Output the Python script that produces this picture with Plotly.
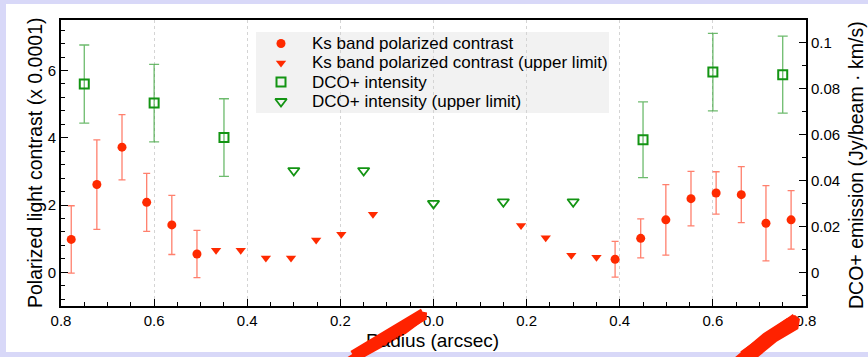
import plotly.graph_objects as go

# ---------------- data ----------------
ks_x = [-0.778, -0.723, -0.669, -0.616, -0.562, -0.508, 0.390, 0.445, 0.499, 0.553, 0.607, 0.661, 0.714, 0.768]
ks_y = [0.98, 2.61, 3.72, 2.08, 1.41, 0.545, 0.39, 1.01, 1.56, 2.19, 2.36, 2.31, 1.46, 1.56]
ks_err = [1.00, 1.33, 0.97, 0.86, 0.88, 0.70, 0.53, 0.58, 1.05, 0.81, 0.63, 0.83, 1.12, 0.87]

ks_ul_x = [-0.467, -0.414, -0.360, -0.306, -0.252, -0.198, -0.130, 0.188, 0.241, 0.296, 0.350]
ks_ul_y = [0.66, 0.66, 0.43, 0.43, 0.96, 1.13, 1.73, 1.39, 1.03, 0.51, 0.45]

dco_x = [-0.75, -0.60, -0.45, 0.45, 0.60, 0.75]
dco_y = [0.0821, 0.0738, 0.0588, 0.0578, 0.0873, 0.0862]
dco_err = [0.0170, 0.0169, 0.0169, 0.0165, 0.0169, 0.0168]

dco_ul_x = [-0.30, -0.15, 0.0, 0.15, 0.30]
dco_ul_y = [0.0444, 0.0444, 0.0301, 0.0308, 0.0308]

x_tickvals = [-0.8, -0.6, -0.4, -0.2, 0.0, 0.2, 0.4, 0.6, 0.8]
x_ticktext = ["0.8", "0.6", "0.4", "0.2", "0.0", "0.2", "0.4", "0.6", "0.8"]
yl_tickvals = [0, 2, 4, 6]
yr_tickvals = [0, 0.02, 0.04, 0.06, 0.08, 0.1]
yr_ticktext = ["0", "0.02", "0.04", "0.06", "0.08", "0.1"]

names = ["Ks band polarized contrast", "Ks band polarized contrast (upper limit)",
         "DCO+ intensity", "DCO+ intensity (upper limit)"]

# ---------------- layout geometry ----------------
W, H = 868, 357
L, R, T, B = 61, 62, 20, 51
FONT = "Liberation Sans, Arial, Helvetica, sans-serif"
RED = "#ff2a00"
RED_ERR = "rgba(255,60,30,0.65)"
GREEN = "#139413"
GREEN_ERR = "rgba(30,150,30,0.65)"

pw, ph = W - L - R, H - T - B


def px(xp):
    return (xp - L) / pw


def py(yp):
    return (H - B - yp) / ph


styles = [
    dict(symbol="circle", size=9, color=RED),
    dict(symbol="triangle-down", size=9, color=RED),
    dict(symbol="square-open", size=9, color=GREEN, line=dict(width=2, color=GREEN)),
    dict(symbol="triangle-down-open", size=10, color=GREEN, line=dict(width=1.8, color=GREEN)),
]

fig = go.Figure()

fig.add_trace(go.Scatter(
    x=ks_x, y=ks_y, mode="markers", name=names[0], marker=styles[0],
    error_y=dict(type="data", array=ks_err, color=RED_ERR, thickness=1.3, width=3.5),
))
fig.add_trace(go.Scatter(
    x=ks_ul_x, y=ks_ul_y, mode="markers", name=names[1], marker=styles[1],
))
fig.add_trace(go.Scatter(
    x=dco_x, y=dco_y, mode="markers", name=names[2], yaxis="y2", marker=styles[2],
    error_y=dict(type="data", array=dco_err, color=GREEN_ERR, thickness=1.3, width=5),
))
fig.add_trace(go.Scatter(
    x=dco_ul_x, y=dco_ul_y, mode="markers", name=names[3], yaxis="y2", marker=styles[3],
))

# ---- legend (drawn on a hidden 0..1 overlay frame so its rows can be packed tightly) ----
leg_rows = [43.5, 63.0, 82.0, 101.5]
leg_sym_x = 281
leg_txt_x = 310
annotations = []
for i, nm in enumerate(names):
    fig.add_trace(go.Scatter(
        x=[px(leg_sym_x)], y=[py(leg_rows[i])], mode="markers", marker=styles[i],
        xaxis="x2", yaxis="y3", showlegend=False, hoverinfo="skip",
    ))
    annotations.append(dict(text=nm, xref="paper", yref="paper", x=px(leg_txt_x), y=py(leg_rows[i]),
                            xanchor="left", yanchor="middle", showarrow=False,
                            font=dict(size=17, family=FONT, color="black")))

shapes = [
    dict(type="rect", xref="paper", yref="paper", x0=px(6), x1=px(870), y0=py(352), y1=py(4),
         fillcolor="white", line=dict(width=0), layer="below"),
    dict(type="rect", xref="paper", yref="paper", x0=px(256), x1=px(609), y0=py(113), y1=py(32),
         fillcolor="#f2f2f2", line=dict(width=0), layer="below"),
]


def poly(pts):
    return "M " + " L ".join(f"{px(a):.5f},{py(b):.5f}" for a, b in pts) + " Z"


stroke_polys = [
    [(346, 358), (376.7, 338.3), (396.7, 326.7), (423.3, 311.7), (427, 312.5),
     (426.7, 318.3), (406.7, 333.3), (383.3, 346.7), (363, 358)],
    [(734, 358), (763.3, 333.3), (786.7, 318.3), (795, 315), (800, 319),
     (798.3, 329), (776.7, 341.7), (757, 358)],
]
for s in stroke_polys:
    shapes.append(dict(type="path", xref="paper", yref="paper", path=poly(s),
                       fillcolor="#ff2200", line=dict(width=0), layer="above"))

annotations += [
    dict(text="Polarized light contrast (x 0.0001)", xref="paper", yref="paper",
         x=px(35), y=py(163), xanchor="center", yanchor="middle", textangle=-90,
         showarrow=False, font=dict(size=19.5, family=FONT)),
    dict(text="DCO+ emission (Jy/beam · km/s)", xref="paper", yref="paper",
         x=px(856), y=py(165), xanchor="center", yanchor="middle", textangle=-90,
         showarrow=False, font=dict(size=19.5, family=FONT)),
    dict(text="Radius (arcsec)", xref="paper", yref="paper",
         x=px(432), y=py(340), xanchor="center", yanchor="middle",
         showarrow=False, font=dict(size=19, family=FONT)),
]

# red brush strokes painted over the bottom labels
for (hx, hy, tx, ty, wd) in [(424, 314, 352, 357, 12), (796, 318.5, 742, 357, 11)]:
    annotations.append(dict(text="", xref="paper", yref="paper", x=px(hx), y=py(hy),
                            ax=tx - hx, ay=ty - hy, showarrow=True, arrowhead=0,
                            arrowwidth=wd, arrowcolor="#ff2200", standoff=0, startstandoff=0))

fig.update_layout(
    width=W, height=H,
    margin=dict(l=L, r=R, t=T, b=B, pad=0),
    paper_bgcolor="rgb(216,216,248)",
    plot_bgcolor="rgba(0,0,0,0)",
    font=dict(family=FONT, size=15, color="black"),
    shapes=shapes,
    annotations=annotations,
    showlegend=False,
    xaxis=dict(range=[-0.8, 0.8], tickvals=x_tickvals, ticktext=x_ticktext,
               ticks="inside", ticklen=7, tickwidth=1.2, tickcolor="black",
               showline=True, linecolor="black", linewidth=2, mirror=True,
               showgrid=True, gridcolor="#d4d4d4", griddash="dot", gridwidth=1,
               zeroline=False,
               minor=dict(dtick=0.05, tick0=0, ticks="inside", ticklen=4, tickcolor="black",
                          showgrid=False),
               tickfont=dict(size=15)),
    xaxis2=dict(range=[0, 1], overlaying="x", visible=False, fixedrange=True),
    yaxis=dict(range=[-1, 7.5], tickvals=yl_tickvals,
               ticks="inside", ticklen=7, tickwidth=1.2, tickcolor="black",
               showline=True, linecolor="black", linewidth=2,
               showgrid=False, zeroline=False,
               minor=dict(dtick=0.4, tick0=0, ticks="inside", ticklen=4, tickcolor="black"),
               tickfont=dict(size=15)),
    yaxis2=dict(range=[-0.0146, 0.110], overlaying="y", side="right",
                tickvals=yr_tickvals, ticktext=yr_ticktext,
                ticks="inside", ticklen=7, tickwidth=1.2, tickcolor="black",
                showline=True, linecolor="black", linewidth=2,
                showgrid=False, zeroline=False,
                minor=dict(dtick=0.01, tick0=0, ticks="inside", ticklen=4, tickcolor="black"),
                tickfont=dict(size=15)),
    yaxis3=dict(range=[0, 1], overlaying="y", visible=False, fixedrange=True),
)

fig.write_html("out.html")
